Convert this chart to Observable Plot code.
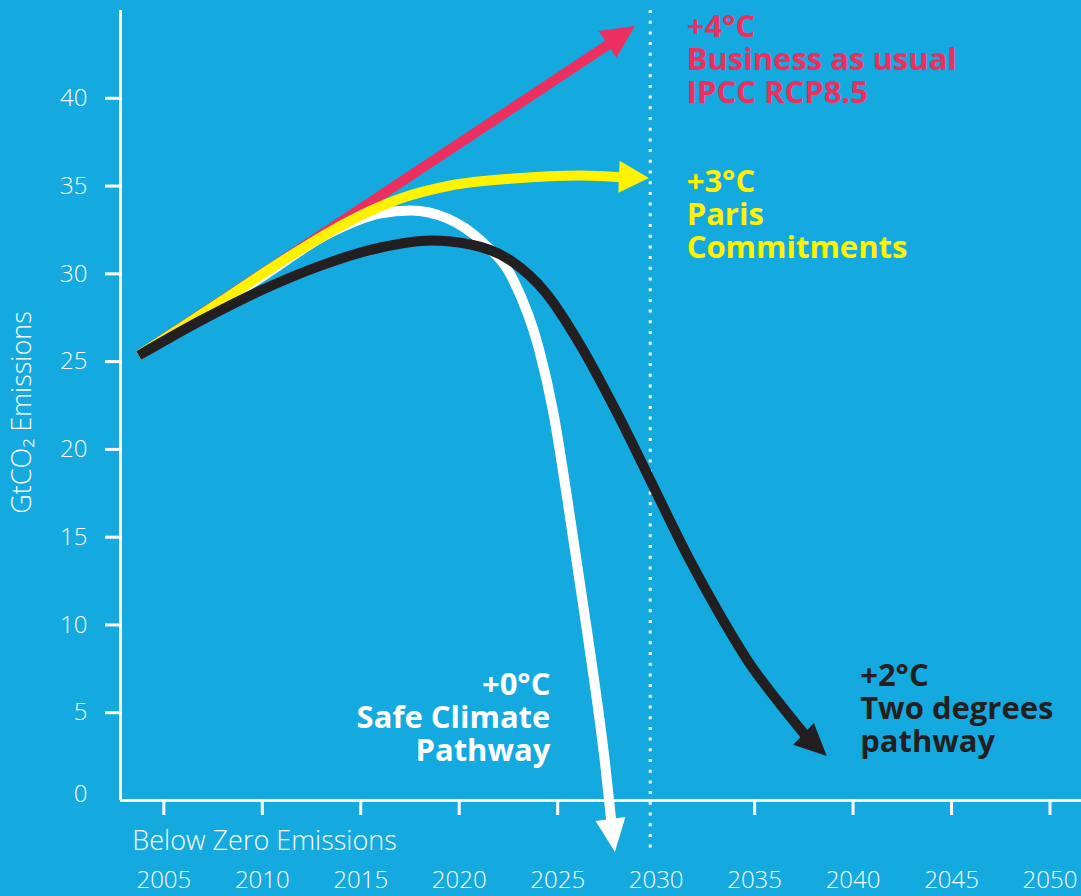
<!DOCTYPE html>
<html><head><meta charset="utf-8">
<script src="https://cdn.jsdelivr.net/npm/d3@7"></script>
<script src="https://cdn.jsdelivr.net/npm/@observablehq/plot@0.6"></script>
<style>
html,body{margin:0;padding:0;background:#14A9DF;}
#chart svg{display:block;background:#14A9DF;}
</style></head><body><div id="chart"></div>
<script>
// ---- data ----
const xTickYears = [2005, 2010, 2015, 2020, 2025, 2035, 2040, 2045, 2050];
const xLabelYears = [2005, 2010, 2015, 2020, 2025, 2030, 2035, 2040, 2045, 2050];
const yTickValues = [5, 10, 15, 20, 25, 30, 35, 40];

// Business as usual (IPCC RCP8.5)
const bauYear  = [2003.73, 2027.68];
const bauValue = [25.35, 43.14];
const bauTip   = [2028.95, 44.09];

// Paris commitments
const parisYear  = [2003.73, 2007.89, 2011.95, 2014.49, 2017.02, 2019.56, 2022.76, 2026.16, 2028.29];
const parisValue = [25.35, 28.42, 31.39, 33.04, 34.29, 35.03, 35.43, 35.60, 35.49];
const parisTip   = [2029.66, 35.43];

// Safe climate pathway
const safeYear  = [2003.73, 2009.92, 2013.47, 2016.01, 2017.53, 2019.41, 2021.08, 2022.76, 2024.03, 2024.79, 2025.50, 2026.51, 2027.43, 2027.73];
const safeValue = [25.35, 29.79, 32.35, 33.44, 33.61, 33.15, 31.90, 29.62, 25.80, 22.04, 17.09, 9.51, 1.88, -1.25];
const safeTip   = [2027.93, -2.96];

// Two degrees pathway
const twoYear  = [2003.73, 2006.88, 2009.92, 2012.97, 2016.01, 2018.55, 2020.58, 2022.61, 2024.38, 2026.16, 2028.03, 2029.71, 2031.64, 2033.26, 2034.78, 2036.15, 2037.62];
const twoValue = [25.35, 27.34, 29.05, 30.47, 31.50, 31.90, 31.67, 30.76, 28.94, 25.92, 22.04, 18.23, 13.84, 10.54, 7.75, 5.70, 3.65];
const twoTip   = [2038.69, 2.51];

// annotations
const labelText  = ["+4°C\nBusiness as usual\nIPCC RCP8.5", "+3°C\nParis\nCommitments", "+0°C\nSafe Climate\nPathway", "+2°C\nTwo degrees\npathway"];
const labelYear  = [2031.55, 2031.55, 2024.63, 2040.36];
const labelValue = [44.85, 36.0, 7.35, 7.86];

const COL = {bg: "#14A9DF", red: "#EC2F5F", yellow: "#FFF200", white: "#FFFFFF", black: "#231F20"};
const labelColor = [COL.red, COL.yellow, COL.white, COL.black];
const labelAnchor = ["start", "start", "end", "start"];
const FONT = "'Open Sans', Lato, sans-serif";

const toRows = (xs, ys) => xs.map((x, i) => ({year: x, value: ys[i]}));

function head(yearArr, valueArr, tip, color, halfWidth) {
  return (index, scales) => {
    const n = yearArr.length;
    const bx = scales.x(yearArr[n - 1]), by = scales.y(valueArr[n - 1]);
    const tx = scales.x(tip[0]), ty = scales.y(tip[1]);
    const dx = tx - bx, dy = ty - by, L = Math.hypot(dx, dy);
    const ux = dx / L, uy = dy / L, px = -uy, py = ux;
    const b0x = bx - ux * 3, b0y = by - uy * 3;
    const pts = [[tx, ty], [b0x + px * halfWidth, b0y + py * halfWidth], [b0x - px * halfWidth, b0y - py * halfWidth]];
    const g = d3.create("svg:g");
    g.append("path").attr("d", "M" + pts.map(p => p.join(",")).join("L") + "Z").attr("fill", color);
    return g.node();
  };
}

const lineOpts = (color) => ({x: "year", y: "value", stroke: color, strokeWidth: 10, curve: "monotone-x", strokeLinecap: "butt", strokeLinejoin: "round"});

const labelMarks = labelText.map((t, i) => Plot.text([t], {
  x: labelYear[i], y: labelValue[i], text: d => d,
  textAnchor: labelAnchor[i], fontSize: 31, fontWeight: 700, lineAnchor: "top", lineHeight: 1.07,
  fill: labelColor[i]
}));

const chart = Plot.plot({
  width: 1081,
  height: 896,
  marginLeft: 120,
  marginRight: 0,
  marginTop: 10,
  marginBottom: 96,
  style: {background: COL.bg, color: "white", fontFamily: FONT, overflow: "visible"},
  x: {domain: [2002.8, 2051.6], label: null},
  y: {domain: [0, 45], label: null},
  marks: [
    // dotted 2030 guide
    Plot.ruleX([2029.7], {y1: 45, y2: -2.9, stroke: "white", strokeWidth: 3, strokeDasharray: "3,7.7"}),
    // axis lines
    Plot.ruleY([0], {stroke: "white", strokeWidth: 3}),
    Plot.ruleX([2002.8], {y1: 0, y2: 45, stroke: "white", strokeWidth: 3}),
    Plot.axisY({ticks: yTickValues, tickSize: 15, tickPadding: 18, fontSize: 24, fontWeight: 300, stroke: "white", strokeWidth: 3, fill: "white", label: null, tickFormat: d => String(d)}),
    Plot.axisY({ticks: [0], tickSize: 0, tickPadding: 33, fontSize: 24, fontWeight: 300, fill: "white", label: null, dy: -6, tickFormat: d => String(d)}),
    Plot.axisX({ticks: xTickYears, tickSize: 15, stroke: "white", strokeWidth: 3, label: null, tickFormat: () => ""}),
    Plot.axisX({ticks: xLabelYears, tickSize: 0, tickPadding: 70, fontSize: 24, fontWeight: 300, fill: "white", label: null, tickFormat: d => String(d)}),
    Plot.text(["Below Zero Emissions"], {x: 2003.4, y: -2.3, text: d => d, textAnchor: "start", fontSize: 27, fontWeight: 300, fill: "white"}),
    Plot.text(["GtCO₂ Emissions"], {frameAnchor: "left", y: 22.1, text: d => d, rotate: -90, dx: -98, textAnchor: "middle", fontSize: 27, fontWeight: 300, fill: "white"}),
    // pathways
    Plot.line(toRows(bauYear, bauValue), lineOpts(COL.red)),
    head(bauYear, bauValue, bauTip, COL.red, 16),
    Plot.line(toRows(safeYear, safeValue), lineOpts(COL.white)),
    head(safeYear, safeValue, safeTip, COL.white, 15),
    Plot.line(toRows(parisYear, parisValue), lineOpts(COL.yellow)),
    head(parisYear, parisValue, parisTip, COL.yellow, 16),
    Plot.line(toRows(twoYear, twoValue), lineOpts(COL.black)),
    head(twoYear, twoValue, twoTip, COL.black, 15),
    ...labelMarks
  ]
});
document.getElementById("chart").appendChild(chart);
</script></body></html>
